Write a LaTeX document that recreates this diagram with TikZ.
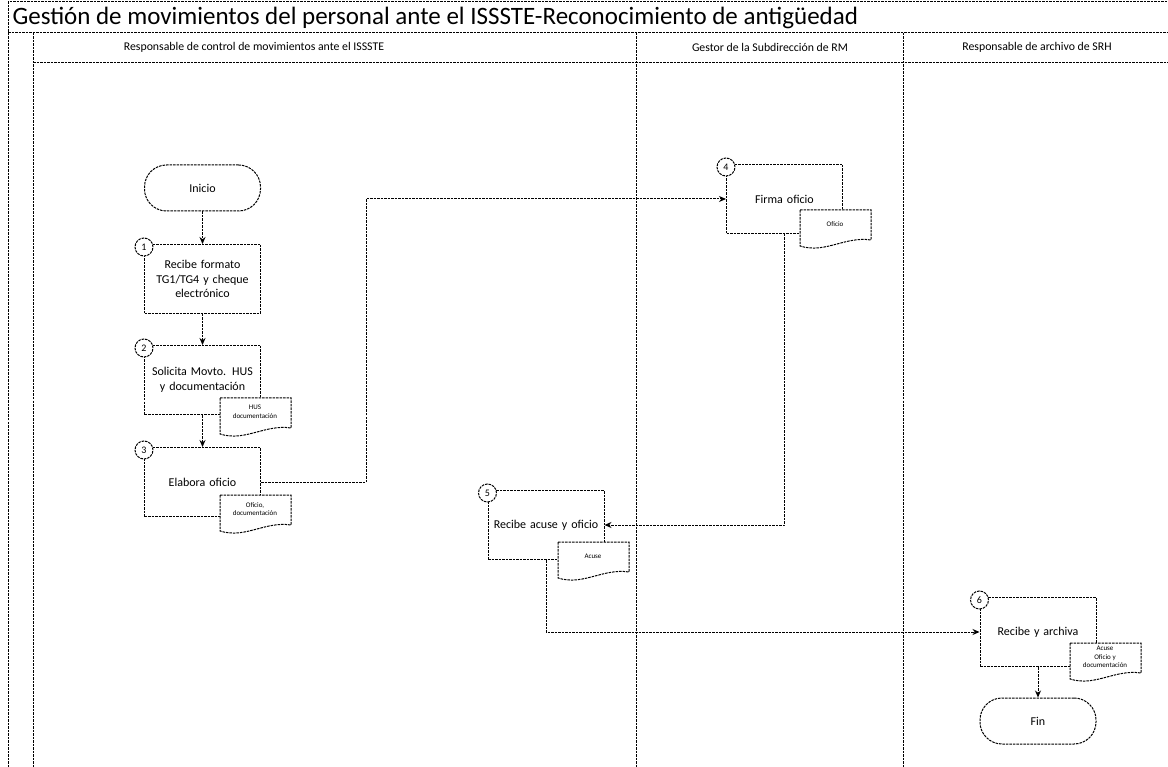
\documentclass[tikz,border=0pt]{standalone}
\usepackage{fontspec}
\setmainfont{Carlito}
\usetikzlibrary{positioning, arrows.meta}

\tikzset{
  rough/.style={draw, dash pattern=on 2.5pt off 1pt, line width=1pt},
  proc/.style={rough, fill=white, minimum width=116pt, minimum height=69pt, align=center, text width=106pt, font=\fontsize{12}{14.5}\selectfont},
  term/.style={rough, fill=white, rounded corners=22pt, minimum width=116pt, minimum height=46pt, font=\fontsize{12}{14.5}\selectfont},
  doctext/.style={align=center, font=\fontsize{7}{8.5}\selectfont, inner sep=0pt},
  num/.style={rough, circle, fill=white, minimum size=18pt, inner sep=0pt, font=\fontsize{10}{10}\selectfont},
  flow/.style={dash pattern=on 2.5pt off 1pt, line width=1pt, -{Stealth[length=7pt,width=6pt]}},
  lane/.style={font=\fontsize{11.8}{14}\selectfont},
}
% document shape: name, x, y (top left), text
\newcommand\docshape[4]{%
  \filldraw[rough, fill=white] (#2,#3) -- ({#2+71},#3) -- ({#2+71},{#3+30})
    .. controls ({#2+45},{#3+26}) and ({#2+25},{#3+44}) .. (#2,{#3+36}) -- cycle;
  \node[doctext] (#1) at ({#2+35},{#3+14}) {#4};
}

\begin{document}
\begin{tikzpicture}[x=1pt,y=-1pt]
\useasboundingbox (0,0) rectangle (1168,767);
% frame and lanes
\draw[rough] (8,767) -- (8,2) -- (1168,2);
\draw[rough] (8,33) -- (1168,33);
\draw[rough] (33,63) -- (1168,63);
\foreach \x in {33,636,903}
  \draw[rough] (\x,33) -- (\x,767);
\node[anchor=west, font=\fontsize{25}{25}\selectfont] (title) at (9,18) {Gestión de movimientos del personal ante el ISSSTE-Reconocimiento de antigüedad};
\node[lane] (lane1) at (254,47) {Responsable de control de movimientos ante el ISSSTE};
\node[lane] (lane2) at (770,47) {Gestor de la Subdirección de RM};
\node[lane] (lane3) at (1037,47) {Responsable de archivo de SRH};

% steps
\node[term] (ini) at (202.5,188) {Inicio};
\node[proc] (b1) at (202.5,279) {Recibe formato TG1/TG4 y cheque electrónico};
\node[proc] (b2) at (202.5,380) {Solicita Movto. HUS y documentación};
\node[proc] (b3) at (202.5,482) {Elabora oficio};
\node[proc] (b4) at (784.5,199) {Firma oficio};
\node[proc] (b5) at (546,525) {Recibe acuse y oficio};
\node[proc] (b6) at (1038,632) {Recibe y archiva};
\node[term] (fin) at (1038,721) {Fin};

\docshape{d2}{220}{398}{HUS\\documentación}
\docshape{d3}{220}{495}{Oficio,\\documentación}
\docshape{d4}{800}{210}{Oficio}
\docshape{d5}{558}{542}{Acuse}
\docshape{d6}{1070}{643}{Acuse\\Oficio y\\documentación}

\foreach \b/\n in {b1/1,b2/2,b3/3,b4/4,b5/5,b6/6}
  \node[num] (n\n) at ([yshift=-3pt]\b.north west) {\n};

% flow
\draw[flow] (ini) -- (b1);
\draw[flow] (b1) -- (b2);
\draw[flow] (b2) -- (b3);
\draw[flow] (b3.east) -- ++(105,0) |- (b4.west);
\draw[flow] (b4.south) |- (b5.east);
\draw[flow] (b5.south) |- (b6.west);
\draw[flow] (b6) -- (fin);
\end{tikzpicture}
\end{document}
